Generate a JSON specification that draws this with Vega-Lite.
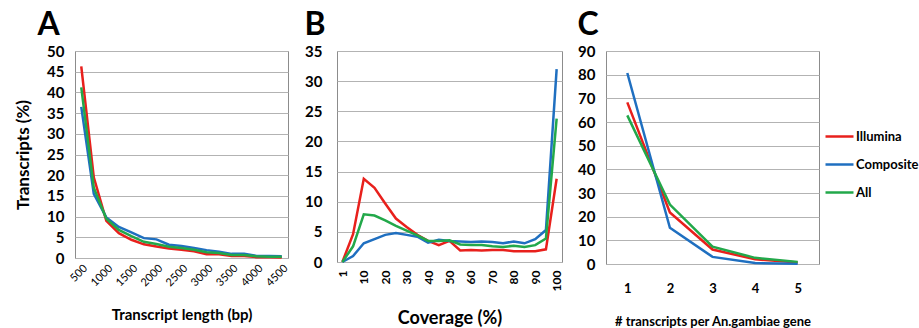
{
  "$schema": "https://vega.github.io/schema/vega-lite/v6.json",
  "padding": {"left": 14, "top": 8, "right": 0, "bottom": 0},
  "background": "white",
  "spacing": 13,
  "config": {
    "font": "Lato",
    "view": {"stroke": "#8c8c8c", "strokeWidth": 1},
    "axis": {
      "labelFont": "Lato", "labelFontWeight": "bold", "labelFontSize": 15, "labelColor": "#000",
      "titleFont": "Lato", "titleFontWeight": "bold", "titleFontSize": 15, "titleColor": "#000",
      "gridColor": "#b3b3b3", "domainColor": "#8c8c8c", "tickColor": "#8c8c8c"
    },
    "title": {"font": "Lato", "fontWeight": "bold", "fontSize": 32, "anchor": "start", "frame": "bounds", "color": "#000", "offset": 2},
    "legend": {"labelFont": "Lato", "labelFontWeight": "bold", "labelFontSize": 13, "labelColor": "#000"},
    "line": {"strokeWidth": 2.5}
  },
  "datasets": {
    "len": [
      {"len": 500, "series": "Illumina", "pct": 46.3}, {"len": 750, "series": "Illumina", "pct": 19.5}, {"len": 1000, "series": "Illumina", "pct": 9.0}, {"len": 1250, "series": "Illumina", "pct": 6.0}, {"len": 1500, "series": "Illumina", "pct": 4.4}, {"len": 1750, "series": "Illumina", "pct": 3.3}, {"len": 2000, "series": "Illumina", "pct": 2.8}, {"len": 2250, "series": "Illumina", "pct": 2.3}, {"len": 2500, "series": "Illumina", "pct": 2.0}, {"len": 2750, "series": "Illumina", "pct": 1.6}, {"len": 3000, "series": "Illumina", "pct": 0.9}, {"len": 3250, "series": "Illumina", "pct": 0.9}, {"len": 3500, "series": "Illumina", "pct": 0.5}, {"len": 3750, "series": "Illumina", "pct": 0.5}, {"len": 4000, "series": "Illumina", "pct": 0.2}, {"len": 4250, "series": "Illumina", "pct": 0.2}, {"len": 4500, "series": "Illumina", "pct": 0.1},
      {"len": 500, "series": "Composite", "pct": 36.5}, {"len": 750, "series": "Composite", "pct": 15.5}, {"len": 1000, "series": "Composite", "pct": 9.8}, {"len": 1250, "series": "Composite", "pct": 7.5}, {"len": 1500, "series": "Composite", "pct": 6.2}, {"len": 1750, "series": "Composite", "pct": 4.8}, {"len": 2000, "series": "Composite", "pct": 4.5}, {"len": 2250, "series": "Composite", "pct": 3.2}, {"len": 2500, "series": "Composite", "pct": 2.9}, {"len": 2750, "series": "Composite", "pct": 2.4}, {"len": 3000, "series": "Composite", "pct": 1.9}, {"len": 3250, "series": "Composite", "pct": 1.5}, {"len": 3500, "series": "Composite", "pct": 1.0}, {"len": 3750, "series": "Composite", "pct": 1.0}, {"len": 4000, "series": "Composite", "pct": 0.5}, {"len": 4250, "series": "Composite", "pct": 0.5}, {"len": 4500, "series": "Composite", "pct": 0.4},
      {"len": 500, "series": "All", "pct": 41.2}, {"len": 750, "series": "All", "pct": 17.0}, {"len": 1000, "series": "All", "pct": 9.5}, {"len": 1250, "series": "All", "pct": 6.8}, {"len": 1500, "series": "All", "pct": 5.3}, {"len": 1750, "series": "All", "pct": 3.9}, {"len": 2000, "series": "All", "pct": 3.4}, {"len": 2250, "series": "All", "pct": 2.7}, {"len": 2500, "series": "All", "pct": 2.4}, {"len": 2750, "series": "All", "pct": 2.0}, {"len": 3000, "series": "All", "pct": 1.4}, {"len": 3250, "series": "All", "pct": 1.2}, {"len": 3500, "series": "All", "pct": 0.7}, {"len": 3750, "series": "All", "pct": 0.7}, {"len": 4000, "series": "All", "pct": 0.4}, {"len": 4250, "series": "All", "pct": 0.3}, {"len": 4500, "series": "All", "pct": 0.3}
    ],
    "cov": [
      {"cov": 1, "series": "Illumina", "pct": 0}, {"cov": 5, "series": "Illumina", "pct": 4.6}, {"cov": 10, "series": "Illumina", "pct": 13.8}, {"cov": 15, "series": "Illumina", "pct": 12.3}, {"cov": 20, "series": "Illumina", "pct": 9.7}, {"cov": 25, "series": "Illumina", "pct": 7.2}, {"cov": 30, "series": "Illumina", "pct": 5.8}, {"cov": 35, "series": "Illumina", "pct": 4.5}, {"cov": 40, "series": "Illumina", "pct": 3.5}, {"cov": 45, "series": "Illumina", "pct": 2.8}, {"cov": 50, "series": "Illumina", "pct": 3.5}, {"cov": 55, "series": "Illumina", "pct": 1.9}, {"cov": 60, "series": "Illumina", "pct": 2.0}, {"cov": 65, "series": "Illumina", "pct": 1.9}, {"cov": 70, "series": "Illumina", "pct": 2.0}, {"cov": 75, "series": "Illumina", "pct": 2.0}, {"cov": 80, "series": "Illumina", "pct": 1.8}, {"cov": 85, "series": "Illumina", "pct": 1.8}, {"cov": 90, "series": "Illumina", "pct": 1.8}, {"cov": 95, "series": "Illumina", "pct": 2.1}, {"cov": 100, "series": "Illumina", "pct": 13.8},
      {"cov": 1, "series": "Composite", "pct": 0}, {"cov": 5, "series": "Composite", "pct": 1.0}, {"cov": 10, "series": "Composite", "pct": 3.1}, {"cov": 15, "series": "Composite", "pct": 3.8}, {"cov": 20, "series": "Composite", "pct": 4.5}, {"cov": 25, "series": "Composite", "pct": 4.8}, {"cov": 30, "series": "Composite", "pct": 4.5}, {"cov": 35, "series": "Composite", "pct": 4.2}, {"cov": 40, "series": "Composite", "pct": 3.2}, {"cov": 45, "series": "Composite", "pct": 3.7}, {"cov": 50, "series": "Composite", "pct": 3.5}, {"cov": 55, "series": "Composite", "pct": 3.4}, {"cov": 60, "series": "Composite", "pct": 3.3}, {"cov": 65, "series": "Composite", "pct": 3.4}, {"cov": 70, "series": "Composite", "pct": 3.3}, {"cov": 75, "series": "Composite", "pct": 3.1}, {"cov": 80, "series": "Composite", "pct": 3.4}, {"cov": 85, "series": "Composite", "pct": 3.1}, {"cov": 90, "series": "Composite", "pct": 3.8}, {"cov": 95, "series": "Composite", "pct": 5.3}, {"cov": 100, "series": "Composite", "pct": 32.0},
      {"cov": 1, "series": "All", "pct": 0}, {"cov": 5, "series": "All", "pct": 2.6}, {"cov": 10, "series": "All", "pct": 7.9}, {"cov": 15, "series": "All", "pct": 7.7}, {"cov": 20, "series": "All", "pct": 6.9}, {"cov": 25, "series": "All", "pct": 6.0}, {"cov": 30, "series": "All", "pct": 5.2}, {"cov": 35, "series": "All", "pct": 4.4}, {"cov": 40, "series": "All", "pct": 3.5}, {"cov": 45, "series": "All", "pct": 3.5}, {"cov": 50, "series": "All", "pct": 3.6}, {"cov": 55, "series": "All", "pct": 2.9}, {"cov": 60, "series": "All", "pct": 2.8}, {"cov": 65, "series": "All", "pct": 2.8}, {"cov": 70, "series": "All", "pct": 2.6}, {"cov": 75, "series": "All", "pct": 2.5}, {"cov": 80, "series": "All", "pct": 2.7}, {"cov": 85, "series": "All", "pct": 2.5}, {"cov": 90, "series": "All", "pct": 2.8}, {"cov": 95, "series": "All", "pct": 3.9}, {"cov": 100, "series": "All", "pct": 23.8}
    ],
    "tpg": [
      {"n": 1, "series": "Illumina", "pct": 68.3}, {"n": 2, "series": "Illumina", "pct": 21.8}, {"n": 3, "series": "Illumina", "pct": 6.1}, {"n": 4, "series": "Illumina", "pct": 2.0}, {"n": 5, "series": "Illumina", "pct": 0.6},
      {"n": 1, "series": "Composite", "pct": 80.7}, {"n": 2, "series": "Composite", "pct": 15.3}, {"n": 3, "series": "Composite", "pct": 3.0}, {"n": 4, "series": "Composite", "pct": 0.4}, {"n": 5, "series": "Composite", "pct": 0.1},
      {"n": 1, "series": "All", "pct": 62.8}, {"n": 2, "series": "All", "pct": 25.1}, {"n": 3, "series": "All", "pct": 7.3}, {"n": 4, "series": "All", "pct": 2.6}, {"n": 5, "series": "All", "pct": 0.9}
    ]
  },
  "hconcat": [
    {
      "title": {"text": "A", "dx": 23},
      "width": 213, "height": 207,
      "data": {"name": "len"},
      "mark": {"type": "line"},
      "encoding": {
        "x": {"field": "len", "type": "ordinal", "scale": {"type": "point", "padding": 0.5},
              "axis": {"values": [500, 1000, 1500, 2000, 2500, 3000, 3500, 4000, 4500], "labelAngle": -45, "labelFontSize": 11, "labelFontWeight": "normal", "ticks": false, "domain": false, "grid": false, "title": "Transcript length (bp)", "titlePadding": 20, "labelPadding": 4}},
        "y": {"field": "pct", "type": "quantitative", "scale": {"domain": [0, 50]},
              "axis": {"values": [0, 5, 10, 15, 20, 25, 30, 35, 40, 45, 50], "ticks": false, "domain": false, "title": "Transcripts (%)", "titleFontSize": 17, "titlePadding": 14, "labelPadding": 11}},
        "color": {"field": "series", "type": "nominal", "sort": ["Illumina", "Composite", "All"],
                  "scale": {"domain": ["Illumina", "Composite", "All"], "range": ["#e8201c", "#1f6fc0", "#22a84a"]},
                  "legend": {"title": null, "orient": "none", "legendX": 749, "legendY": 70, "symbolType": "stroke", "symbolSize": 784, "symbolStrokeWidth": 3, "rowPadding": 5, "labelOffset": 1}},
        "order": {"field": "len", "type": "quantitative"}
      }
    },
    {
      "title": {"text": "B"},
      "width": 225, "height": 211,
      "data": {"name": "cov"},
      "mark": {"type": "line"},
      "encoding": {
        "x": {"field": "cov", "type": "ordinal", "scale": {"type": "point", "padding": 0.5},
              "axis": {"values": [1, 10, 20, 30, 40, 50, 60, 70, 80, 90, 100], "labelAngle": -90, "labelFontSize": 12, "ticks": false, "domain": false, "grid": false, "title": "Coverage (%)", "titleFontSize": 18, "titlePadding": 19, "labelPadding": 8}},
        "y": {"field": "pct", "type": "quantitative", "scale": {"domain": [0, 35]},
              "axis": {"values": [0, 5, 10, 15, 20, 25, 30, 35], "ticks": false, "domain": false, "title": null, "labelPadding": 15}},
        "color": {"field": "series", "type": "nominal", "sort": ["Illumina", "Composite", "All"]},
        "order": {"field": "cov", "type": "quantitative"}
      }
    },
    {
      "title": {"text": "C"},
      "width": 213, "height": 213,
      "data": {"name": "tpg"},
      "mark": {"type": "line"},
      "encoding": {
        "x": {"field": "n", "type": "ordinal", "scale": {"type": "point", "padding": 0.5},
              "axis": {"labelAngle": 0, "labelFontSize": 13, "ticks": false, "domain": false, "grid": false, "title": "# transcripts per An.gambiae gene", "titleFontSize": 13, "titlePadding": 20, "labelPadding": 18}},
        "y": {"field": "pct", "type": "quantitative", "scale": {"domain": [0, 90]},
              "axis": {"values": [0, 10, 20, 30, 40, 50, 60, 70, 80, 90], "ticks": false, "domain": false, "title": null, "labelPadding": 11}},
        "color": {"field": "series", "type": "nominal", "sort": ["Illumina", "Composite", "All"]},
        "order": {"field": "n", "type": "quantitative"}
      }
    }
  ]
}
